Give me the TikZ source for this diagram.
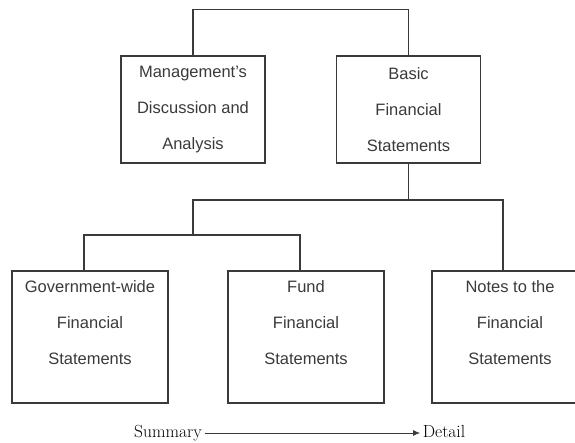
\documentclass[tikz,border=0pt]{standalone}
\usepackage{xcolor}
\usepackage{fontspec}
\newfontfamily\boxfont{Liberation Sans}
\usepackage{tikz}
\usetikzlibrary{arrows.meta}

\definecolor{inkgray}{HTML}{3A3A3A}
\tikzset{
  box/.style={draw=inkgray, line width=1.2pt, text=inkgray, align=center,
    font=\boxfont\fontsize{16.5}{36}\selectfont, inner sep=0pt},
  topbox/.style={box, minimum width=144pt, minimum height=107pt},
  lowbox/.style={box, minimum width=156pt, minimum height=132pt},
  link/.style={draw=inkgray, line width=1.2pt},
  tag/.style={draw=none, text=black, inner sep=2.5pt,
    font=\fontsize{17.5}{20}\selectfont, text height=12pt, text depth=3pt}
}

\begin{document}
\begin{tikzpicture}[x=1pt, y=-1pt]
             \useasboundingbox (0,0) rectangle (575,443);
             \clip (0,0) rectangle (575,443);

             \node[topbox] (mda) at (193,109.5) {Management’s\\Discussion and\\Analysis};
             \node[topbox] (bfs) at (408.5,109.5) {Basic\\Financial\\Statements};

             \node[lowbox] (gwf) at (90,337) {Government-wide\\Financial\\Statements\\[-8pt]\mbox{}};
             \node[lowbox] (ffs) at (306,337) {Fund\\Financial\\Statements\\[-8pt]\mbox{}};
             \node[lowbox] (nfs) at (510,337) {Notes to the\\Financial\\Statements\\[-8pt]\mbox{}};

             \coordinate (hub) at (bfs.south |- 0,200);
             \coordinate (lhub) at (mda.south |- 0,200);
             \coordinate (fork) at (mda.south |- 0,235);

             \draw[link] (mda.north) -- ++(0,-46) -| (bfs.north);
             \draw[link] (bfs.south) -- (hub);
             \draw[link] (fork) -- (lhub) -| ([xshift=-7pt]nfs.north);
             \draw[link] ([xshift=-6pt]gwf.north) |- (fork) -| ([xshift=-6pt]ffs.north);

             \node[tag] (sum) at (168,433) {Summary};
             \node[tag] (det) at (444,433) {Detail};
             \draw[link, line width=0.8pt, -{Latex[length=7pt,width=6pt]}] (sum) -- (det);
             \end{tikzpicture}
\end{document}
